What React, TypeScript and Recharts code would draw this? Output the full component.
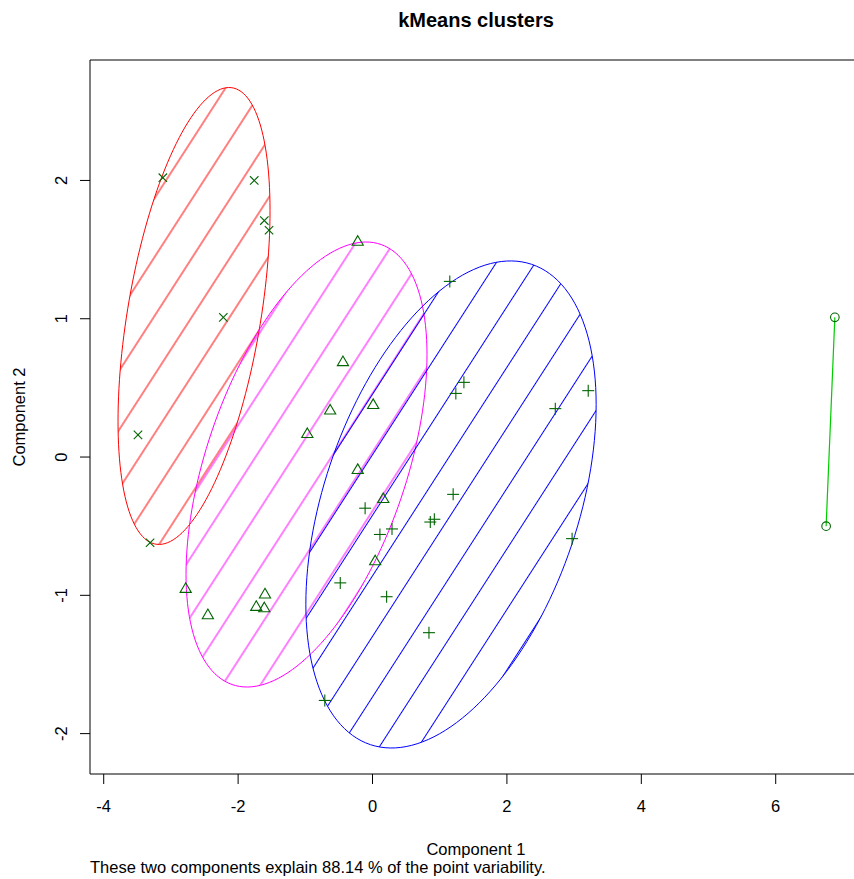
import React from "react";
import { ScatterChart, Scatter, XAxis, YAxis, ReferenceArea } from "recharts";

// chart values
const xTicks = [-4, -2, 0, 2, 4, 6];
const yTicks = [-2, -1, 0, 1, 2];

const crossX = [-3.12, -1.76, -1.61, -1.54, -2.22, -3.49, -3.31];
const crossY = [2.02, 2.0, 1.71, 1.64, 1.01, 0.16, -0.62];

const triX = [-0.22, -0.44, -0.63, 0.01, -0.97, -0.22, 0.16, 0.04, -2.78, -2.45, -1.6, -1.73, -1.61];
const triY = [1.56, 0.69, 0.34, 0.38, 0.17, -0.09, -0.3, -0.75, -0.95, -1.14, -0.99, -1.08, -1.09];

const plusX = [1.15, 1.36, 1.24, 2.72, 3.21, 1.2, -0.11, 0.11, 0.29, 0.86, 0.92, -0.48, 0.21, 0.84, 2.97, -0.71];
const plusY = [1.27, 0.54, 0.46, 0.35, 0.48, -0.27, -0.37, -0.56, -0.52, -0.47, -0.45, -0.91, -1.01, -1.27, -0.59, -1.76];

const circX = [6.88, 6.75];
const circY = [1.01, -0.5];

// spanning ellipses: centre, half extents along the axes, correlation
const ellRed = { cx: -2.656, cy: 1.02, hx: 1.131, hy: 1.652, rho: 0.461 };
const ellMagenta = { cx: -0.982, cy: -0.054, hx: 1.793, hy: 1.609, rho: 0.494 };
const ellBlue = { cx: 1.168, cy: -0.343, hx: 2.16, hy: 1.761, rho: 0.41 };

const X_DOMAIN: [number, number] = [-4.204, 7.284];
const Y_DOMAIN: [number, number] = [-2.292, 2.871];

const CHART_W = 868;
const CHART_H = 879;
const PLOT_LEFT = 90;
const PLOT_RIGHT = 862;
const PLOT_TOP = 60;
const PLOT_BOTTOM = 774;
const MID_X = (PLOT_LEFT + PLOT_RIGHT) / 2;
const MID_Y = (PLOT_TOP + PLOT_BOTTOM) / 2;

const FONT = "'Liberation Sans', Arial, Helvetica, sans-serif";
const PT_COLOR = "#006400";
const HATCH_ANGLE = 57.2;

const zip = (xs: number[], ys: number[]) => xs.map((x, i) => ({ x, y: ys[i] }));

type Ell = { cx: number; cy: number; hx: number; hy: number; rho: number };
const outline = (e: Ell) => {
  const s = Math.sqrt(1 - e.rho * e.rho);
  const pts = [];
  for (let i = 0; i <= 160; i++) {
    const t = (2 * Math.PI * i) / 160;
    pts.push({
      x: e.cx + e.hx * Math.cos(t),
      y: e.cy + e.hy * (e.rho * Math.cos(t) + s * Math.sin(t)),
    });
  }
  return pts;
};

const Hatch = ({ id, color, ax, ay, gap }: { id: string; color: string; ax: number; ay: number; gap: number }) => (
  <pattern
    id={id}
    patternUnits="userSpaceOnUse"
    width={20}
    height={gap}
    patternTransform={`translate(${ax} ${ay}) rotate(${-HATCH_ANGLE}) translate(0 ${-gap / 2})`}
  >
    <line x1={0} x2={20} y1={gap / 2} y2={gap / 2} stroke={color} strokeWidth={1} />
  </pattern>
);

const noShape = () => <g />;

const crossShape = (p: any) => {
  const r = 4.2;
  return (
    <g stroke={PT_COLOR} strokeWidth={1.1}>
      <line x1={p.cx - r} y1={p.cy - r} x2={p.cx + r} y2={p.cy + r} />
      <line x1={p.cx - r} y1={p.cy + r} x2={p.cx + r} y2={p.cy - r} />
    </g>
  );
};

const plusShape = (p: any) => {
  const r = 6;
  return (
    <g stroke={PT_COLOR} strokeWidth={1.1}>
      <line x1={p.cx - r} y1={p.cy} x2={p.cx + r} y2={p.cy} />
      <line x1={p.cx} y1={p.cy - r} x2={p.cx} y2={p.cy + r} />
    </g>
  );
};

const triShape = (p: any) => (
  <polygon
    points={`${p.cx},${p.cy - 5.6} ${p.cx + 5.6},${p.cy + 4} ${p.cx - 5.6},${p.cy + 4}`}
    fill="none"
    stroke={PT_COLOR}
    strokeWidth={1.1}
  />
);

const circShape = (p: any) => <circle cx={p.cx} cy={p.cy} r={4.3} fill="none" stroke={PT_COLOR} strokeWidth={1.1} />;

const XTick = (p: any) => (
  <text x={p.x} y={p.y} textAnchor="middle" fontFamily={FONT} fontSize={16.5} fill="#000">
    {p.payload.value}
  </text>
);

const YTick = (p: any) => (
  <text
    x={p.x}
    y={p.y}
    transform={`rotate(-90 ${p.x} ${p.y})`}
    textAnchor="middle"
    fontFamily={FONT}
    fontSize={16.5}
    fill="#000"
  >
    {p.payload.value}
  </text>
);

export default function App() {
  return (
    <div style={{ position: "absolute", left: 0, top: 0, width: 854, height: 879, overflow: "hidden", background: "#fff" }}>
      <svg width={0} height={0} style={{ position: "absolute" }}>
        <defs>
          <Hatch id="hatch-red" color="#ff0000" ax={235} ay={250} gap={31.9} />
          <Hatch id="hatch-magenta" color="#ff00ff" ax={356.7} ay={300} gap={31.9} />
          <Hatch id="hatch-blue" color="#0000ff" ax={590} ay={420} gap={32.8} />
        </defs>
      </svg>
      <ScatterChart
        width={CHART_W}
        height={CHART_H}
        margin={{ top: PLOT_TOP, right: CHART_W - PLOT_RIGHT, bottom: 0, left: 0 }}
      >
        <XAxis
          dataKey="x"
          type="number"
          domain={X_DOMAIN}
          ticks={xTicks}
          allowDataOverflow
          height={CHART_H - PLOT_BOTTOM}
          axisLine={false}
          tickLine={{ stroke: "#000" }}
          tickSize={10}
          tickMargin={28}
          tick={<XTick />}
          interval={0}
        />
        <YAxis
          dataKey="y"
          type="number"
          domain={Y_DOMAIN}
          ticks={yTicks}
          allowDataOverflow
          width={PLOT_LEFT}
          axisLine={false}
          tickLine={{ stroke: "#000" }}
          tickSize={10}
          tickMargin={13}
          tick={<YTick />}
          interval={0}
        />
        <ReferenceArea
          x1={X_DOMAIN[0]}
          x2={X_DOMAIN[1]}
          y1={Y_DOMAIN[0]}
          y2={Y_DOMAIN[1]}
          fill="none"
          stroke="#000"
          strokeWidth={1}
          ifOverflow="visible"
        />
        <Scatter
          data={outline(ellRed)}
          line={{ stroke: "#ff0000", strokeWidth: 1, fill: "url(#hatch-red)" }}
          lineType="joint"
          shape={noShape}
          isAnimationActive={false}
        />
        <Scatter
          data={outline(ellMagenta)}
          line={{ stroke: "#ff00ff", strokeWidth: 1, fill: "url(#hatch-magenta)" }}
          lineType="joint"
          shape={noShape}
          isAnimationActive={false}
        />
        <Scatter
          data={outline(ellBlue)}
          line={{ stroke: "#0000ff", strokeWidth: 1, fill: "url(#hatch-blue)" }}
          lineType="joint"
          shape={noShape}
          isAnimationActive={false}
        />
        <Scatter
          data={zip(circX, circY)}
          line={{ stroke: "#00cd00", strokeWidth: 1.2 }}
          lineType="joint"
          shape={noShape}
          isAnimationActive={false}
        />
        <Scatter data={zip(crossX, crossY)} shape={crossShape} isAnimationActive={false} />
        <Scatter data={zip(triX, triY)} shape={triShape} isAnimationActive={false} />
        <Scatter data={zip(plusX, plusY)} shape={plusShape} isAnimationActive={false} />
        <Scatter data={zip(circX, circY)} shape={circShape} isAnimationActive={false} />
      </ScatterChart>
      <svg
        width={854}
        height={879}
        style={{ position: "absolute", left: 0, top: 0, pointerEvents: "none" }}
        fontFamily={FONT}
      >
        <text x={MID_X} y={27} textAnchor="middle" fontSize={20} fontWeight="bold">
          kMeans clusters
        </text>
        <text x={MID_X} y={855} textAnchor="middle" fontSize={16.5}>
          Component 1
        </text>
        <text x={25} y={MID_Y} transform={`rotate(-90 25 ${MID_Y})`} textAnchor="middle" fontSize={16.5}>
          Component 2
        </text>
        <text x={90} y={873} fontSize={16.5}>
          These two components explain 88.14 % of the point variability.
        </text>
      </svg>
    </div>
  );
}
